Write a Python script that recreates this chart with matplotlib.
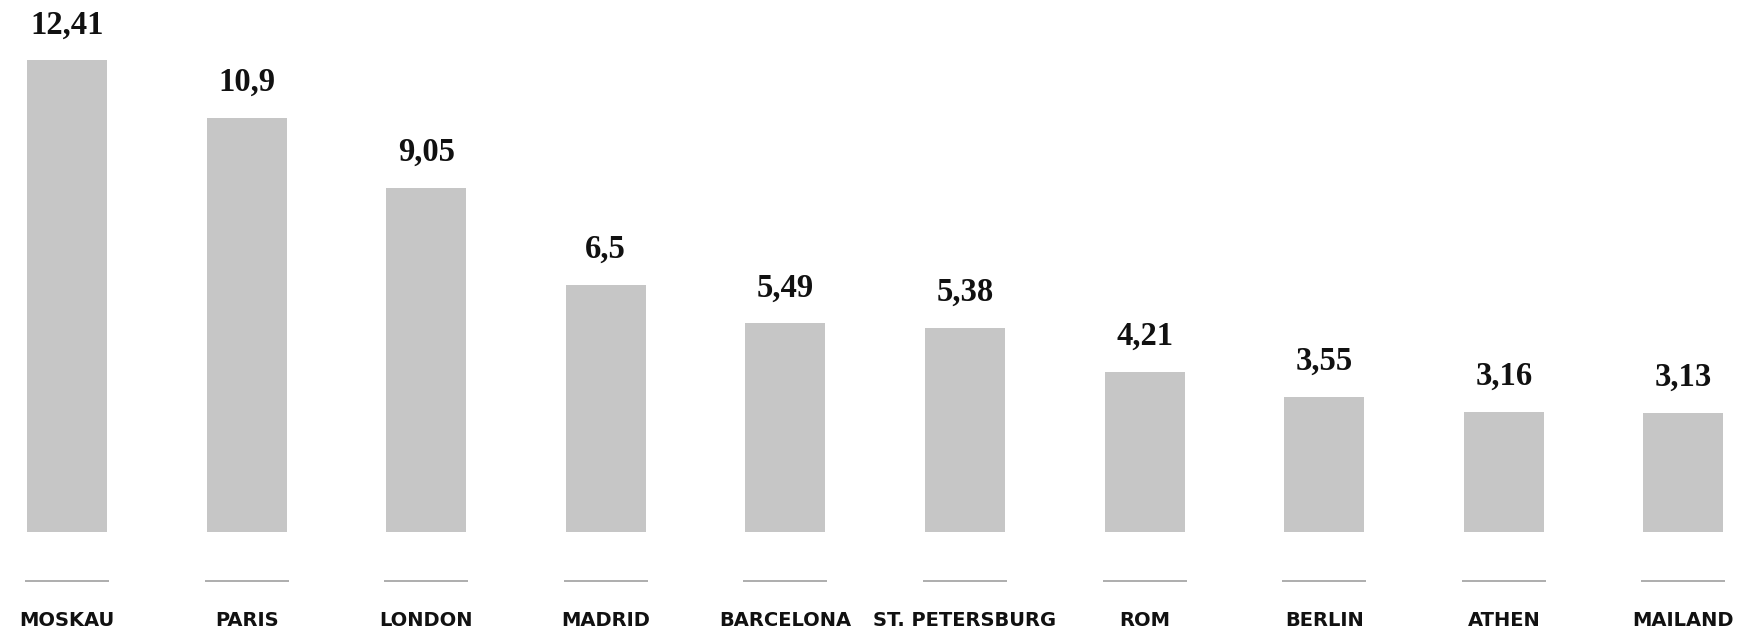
import matplotlib
matplotlib.use("Agg")
import matplotlib.pyplot as plt

cities = ["MOSKAU", "PARIS", "LONDON", "MADRID", "BARCELONA", "ST. PETERSBURG",
          "ROM", "BERLIN", "ATHEN", "MAILAND"]
values = [12.41, 10.9, 9.05, 6.5, 5.49, 5.38, 4.21, 3.55, 3.16, 3.13]
value_labels = ["12,41", "10,9", "9,05", "6,5", "5,49", "5,38", "4,21", "3,55", "3,16", "3,13"]

W, H, DPI = 1750, 630, 100
fig = plt.figure(figsize=(W / DPI, H / DPI), dpi=DPI)
ax = fig.add_axes([0, 0, 1, 1])

spacing_px = 179.6
first_px = 67.0
xmin = -first_px / spacing_px
xmax = xmin + W / spacing_px
px_per_unit = 38.0
bottom_px = 98.0
ymin = -bottom_px / px_per_unit
ymax = ymin + H / px_per_unit
ax.set_xlim(xmin, xmax)
ax.set_ylim(ymin, ymax)
ax.axis("off")

xs = list(range(len(cities)))
ax.bar(xs, values, width=80 / spacing_px, color="#c6c6c6", edgecolor="none")

for x, v, lab in zip(xs, values, value_labels):
    ax.annotate(lab, (x, v), xytext=(0, 19.5), textcoords="offset points",
                ha="center", va="baseline", fontsize=23.5, fontweight="bold",
                family="Liberation Serif", color="#111111")

tr = ax.get_xaxis_transform()
half = 42 / spacing_px
for x, name in zip(xs, cities):
    ax.plot([x - half, x + half], [49 / H, 49 / H], transform=tr,
            color="#a0a0a0", lw=1.2, solid_capstyle="butt")
    ax.text(x, 3.5 / H, name, transform=tr, ha="center", va="baseline",
            fontsize=14, fontweight="bold", family="DejaVu Sans", color="#111111")

fig.savefig("out.png", dpi=DPI, facecolor="white")
